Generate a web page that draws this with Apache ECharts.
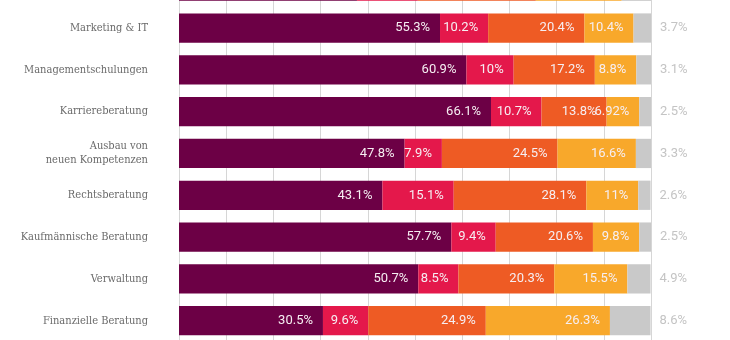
<!DOCTYPE html>
<html>
<head>
<meta charset="utf-8">
<script src="https://cdn.jsdelivr.net/npm/echarts@6/dist/echarts.min.js"></script>
<style>
  html, body { margin: 0; padding: 0; background: #ffffff; }
  #chart { width: 730px; height: 340px; }
</style>
</head>
<body>
<div id="chart"></div>
<script>
// Service categories, top to bottom (the first row sits mostly above the frame)
const categories = ['', 'Marketing & IT', 'Managementschulungen', 'Karriereberatung',
  'Ausbau von\nneuen Kompetenzen', 'Rechtsberatung', 'Kaufmännische Beratung',
  'Verwaltung', 'Finanzielle Beratung'];

// Share of answers per category, in percent
const seriesA = [37.7, 55.3, 60.9, 66.1, 47.8, 43.1, 57.7, 50.7, 30.5];
const seriesB = [12.9, 10.2, 10, 10.7, 7.9, 15.1, 9.4, 8.5, 9.6];
const seriesC = [25.0, 20.4, 17.2, 13.8, 24.5, 28.1, 20.6, 20.3, 24.9];
const seriesD = [18.2, 10.4, 8.8, 6.92, 16.6, 11, 9.8, 15.5, 26.3];
const seriesE = [6.2, 3.7, 3.1, 2.5, 3.3, 2.6, 2.5, 4.9, 8.6];

const xTicks = { min: 0, max: 100, interval: 10 };

const colors = ['#6c0045', '#e4184b', '#ee5b24', '#f8a82b', '#c9c9c9'];
const valueFont = 'Roboto, sans-serif';

function innerLabel() {
  return {
    show: true,
    position: 'insideRight',
    distance: 10,
    color: '#f6eef2',
    fontFamily: valueFont,
    fontSize: 13,
    formatter: p => String(p.value) + '%'
  };
}

function stackSeries(data, color, label) {
  return {
    type: 'bar',
    stack: 'total',
    data: data,
    barWidth: '70%',
    itemStyle: { color: color },
    label: label,
    emphasis: { disabled: true }
  };
}

const chart = echarts.init(document.getElementById('chart'), null, { renderer: 'canvas' });

chart.setOption({
  animation: false,
  backgroundColor: '#ffffff',
  grid: { left: 179, right: 79, top: -34.7, height: 376.3, outerBoundsMode: 'none', containLabel: false },
  xAxis: {
    type: 'value',
    min: xTicks.min,
    max: xTicks.max,
    interval: xTicks.interval,
    axisLabel: { show: false },
    axisLine: { show: false },
    axisTick: { show: false },
    splitLine: { show: true, lineStyle: { color: '#d6d6d6', width: 1 } }
  },
  yAxis: {
    type: 'category',
    inverse: true,
    data: categories,
    axisLine: { show: false },
    axisTick: { show: false },
    axisLabel: {
      margin: 31,
      color: '#6a6a6a',
      fontFamily: '"DejaVu Serif Condensed", serif',
      fontSize: 11,
      lineHeight: 14,
      align: 'right'
    }
  },
  series: [
    stackSeries(seriesA, colors[0], innerLabel()),
    stackSeries(seriesB, colors[1], innerLabel()),
    stackSeries(seriesC, colors[2], innerLabel()),
    stackSeries(seriesD, colors[3], innerLabel()),
    stackSeries(seriesE, colors[4], {
      show: true,
      position: 'right',
      distance: 9,
      color: '#c4c4c4',
      fontFamily: valueFont,
      fontSize: 13,
      formatter: p => String(p.value) + '%'
    })
  ]
});
</script>
</body>
</html>
